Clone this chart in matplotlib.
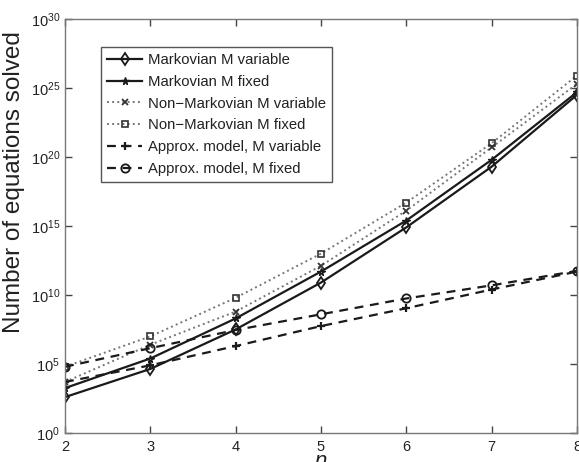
import matplotlib
matplotlib.use('Agg')
import matplotlib.pyplot as plt
import numpy as np

# n values
n = [2, 3, 4, 5, 6, 7, 8]

# number of equations solved
markov_var = [4e2, 4.4e4, 3.2e7, 8e10, 8e14, 2e19, 3.2e24]
markov_fixed = [1.8e3, 2.5e5, 2e8, 5e11, 2.5e15, 6.3e19, 5e24]
nonmarkov_var = [5e3, 2.5e6, 6.3e8, 1.3e12, 1.3e16, 5e20, 2e25]
nonmarkov_fixed = [6.3e4, 1e7, 6.3e9, 1e13, 5e16, 1e21, 8e25]
approx_var = [5e3, 8e4, 2e6, 5.6e7, 1.1e9, 2.5e10, 5e11]
approx_fixed = [6.3e4, 1.4e6, 2.9e7, 4e8, 5.6e9, 5e10, 5.6e11]

labels = ['Markovian M variable', 'Markovian M fixed',
          'Non\u2212Markovian M variable', 'Non\u2212Markovian M fixed',
          'Approx. model, M variable', 'Approx. model, M fixed']

plt.rcParams['font.family'] = ['Liberation Sans', 'DejaVu Sans']
plt.rcParams['mathtext.fontset'] = 'custom'
plt.rcParams['mathtext.rm'] = 'Liberation Sans'
plt.rcParams['mathtext.it'] = 'Liberation Sans:italic'
txt = '#222222'

fig = plt.figure(figsize=(5.79, 4.62), dpi=100)
ax = fig.add_axes([65 / 579, 29 / 462, 512 / 579, 414 / 462])

# solid lines
ax.plot(n, markov_var, '-', color='#1a1a1a', lw=1.6, marker='d', ms=6,
        mfc='none', mew=1.3, label=labels[0])
ax.plot(n, markov_fixed, '-', color='#1a1a1a', lw=1.6, marker='*', ms=5.5,
        mfc='none', mew=1.0, label=labels[1])
# dotted lines
ax.plot(n, nonmarkov_var, ':', color='#777777', lw=1.4, marker='x', ms=4,
        mec='#333333', mew=1.3, label=labels[2])
ax.plot(n, nonmarkov_fixed, ':', color='#777777', lw=1.4, marker='s', ms=5,
        mfc='none', mec='#333333', mew=1.2, label=labels[3])
# dashed lines
ax.plot(n, approx_var, '--', color='#1a1a1a', lw=1.6, marker='+', ms=6,
        mew=1.6, dashes=(4, 3), label=labels[4])
ax.plot(n, approx_fixed, '--', color='#1a1a1a', lw=1.6, marker='o', ms=6,
        mfc='none', mew=1.3, dashes=(4, 3), label=labels[5])

ax.set_yscale('log')
ax.set_ylim(1e0, 1e30)
ax.set_xlim(2, 8)
ax.set_yticks([10.0 ** k for k in range(0, 31, 5)])
ax.yaxis.set_minor_locator(matplotlib.ticker.NullLocator())
ax.set_xticks(n)

ax.tick_params(direction='in', top=True, right=True, length=5, width=1,
               color='#444444', labelsize=10.5, labelcolor=txt)
ax.tick_params(axis='x', pad=5)
for s in ax.spines.values():
    s.set_color('#777777')
    s.set_linewidth(1.0)

ax.set_ylabel('Number of equations solved', fontsize=17.5, color=txt)
ax.yaxis.set_label_coords(-0.078, 0.606)
ax.set_xlabel('n', fontsize=16, style='italic', color=txt, labelpad=-2)

leg = ax.legend(loc='upper left', bbox_to_anchor=(0.07, 0.932),
                borderaxespad=0, fontsize=10.7, numpoints=1, handlelength=2.4,
                handletextpad=0.35, labelspacing=0.52, borderpad=0.4,
                fancybox=False, framealpha=1, edgecolor='#555555')
leg.get_frame().set_linewidth(1.0)
for t in leg.get_texts():
    t.set_color(txt)

fig.savefig('out.png', dpi=100)
